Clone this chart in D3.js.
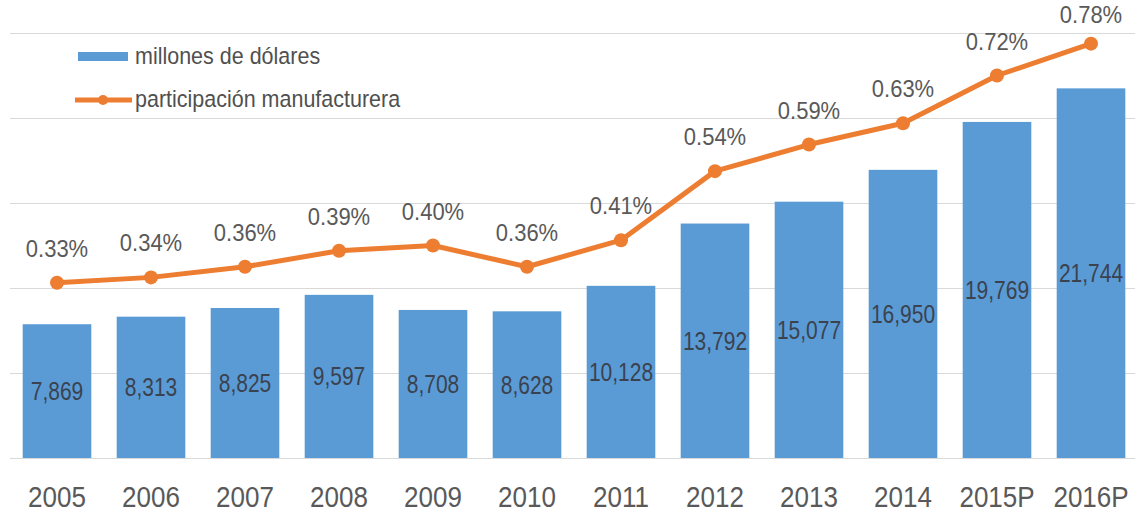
<!DOCTYPE html>
<html>
<head>
<meta charset="utf-8">
<script src="https://cdn.jsdelivr.net/npm/d3@7"></script>
<style>
  html, body { margin: 0; padding: 0; background: #fff; }
  svg { display: block; }
  text { font-family: "Liberation Sans", Arial, sans-serif; }
</style>
</head>
<body>
<svg id="chart" width="1135" height="512"></svg>
<script>
const categories = ["2005","2006","2007","2008","2009","2010","2011","2012","2013","2014","2015P","2016P"];
const millones = [7869, 8313, 8825, 9597, 8708, 8628, 10128, 13792, 15077, 16950, 19769, 21744];
const participacion = [0.33, 0.34, 0.36, 0.39, 0.40, 0.36, 0.41, 0.54, 0.59, 0.63, 0.72, 0.78];
const gridTicks = [0, 5000, 10000, 15000, 20000, 25000];
const legendLabels = ["millones de dólares", "participación manufacturera"];

const svg = d3.select("#chart");
const W = 1135, H = 512;
const baseY = 458, topY = 33;

const x = d3.scaleBand().domain(categories).range([10, 1138]).paddingInner(0.27).paddingOuter(0.135);
const y = d3.scaleLinear().domain([0, 25000]).range([baseY, topY]);
const y2 = d3.scaleLinear().domain([0, 0.8]).range([baseY, topY]);

const blue = "#5B9BD5", orange = "#ED7D31";

// gridlines
svg.append("g").selectAll("line").data(gridTicks).join("line")
  .attr("x1", 10).attr("x2", W)
  .attr("y1", d => Math.round(y(d)) + 0.5).attr("y2", d => Math.round(y(d)) + 0.5)
  .attr("stroke", "#d9d9d9").attr("stroke-width", 1.2);

// bars
svg.append("g").selectAll("rect").data(categories).join("rect")
  .attr("x", d => x(d)).attr("width", x.bandwidth())
  .attr("y", (d, i) => y(millones[i]))
  .attr("height", (d, i) => baseY - y(millones[i]))
  .attr("fill", blue);

// bar value labels
const fmt = d3.format(",");
svg.append("g").selectAll("text").data(categories).join("text")
  .attr("text-anchor", "middle")
  .attr("font-size", 21)
  .attr("fill", "#3a4250")
  .attr("transform", (d, i) => {
    const cy = (y(millones[i]) + baseY) / 2 + 9;
    return `translate(${x(d) + x.bandwidth() / 2},${cy}) scale(1,1.2)`;
  })
  .text((d, i) => fmt(millones[i]));

// line
const line = d3.line()
  .x((d, i) => x(categories[i]) + x.bandwidth() / 2)
  .y(d => y2(d));
svg.append("path").datum(participacion)
  .attr("d", line).attr("fill", "none")
  .attr("stroke", orange).attr("stroke-width", 5).attr("stroke-linejoin", "round");
svg.append("g").selectAll("circle").data(participacion).join("circle")
  .attr("cx", (d, i) => x(categories[i]) + x.bandwidth() / 2)
  .attr("cy", d => y2(d))
  .attr("r", 7).attr("fill", orange);

// percent labels
svg.append("g").selectAll("text").data(participacion).join("text")
  .attr("text-anchor", "middle")
  .attr("font-size", 22)
  .attr("fill", "#595959")
  .attr("transform", (d, i) => `translate(${x(categories[i]) + x.bandwidth() / 2},${Math.max(y2(d) - 26, 23)}) scale(1,1.1)`)
  .text(d => d.toFixed(2) + "%");

// x axis labels
svg.append("g").selectAll("text").data(categories).join("text")
  .attr("text-anchor", "middle")
  .attr("font-size", 26)
  .attr("fill", "#595959")
  .attr("transform", d => `translate(${x(d) + x.bandwidth() / 2},507) scale(1,1.16)`)
  .text(d => d);

// legend
const lg = svg.append("g");
lg.append("rect").attr("x", 78).attr("y", 52).attr("width", 50).attr("height", 9).attr("fill", blue);
lg.append("line").attr("x1", 75).attr("x2", 132).attr("y1", 100).attr("y2", 100)
  .attr("stroke", orange).attr("stroke-width", 5);
lg.append("circle").attr("cx", 103).attr("cy", 100).attr("r", 5).attr("fill", orange);
lg.selectAll("text.lg").data(legendLabels).join("text")
  .attr("class", "lg")
  .attr("font-size", 21.5)
  .attr("fill", "#505050")
  .attr("transform", (d, i) => `translate(135,${[64, 107][i]}) scale(1,1.12)`)
  .text(d => d);
</script>
</body>
</html>
